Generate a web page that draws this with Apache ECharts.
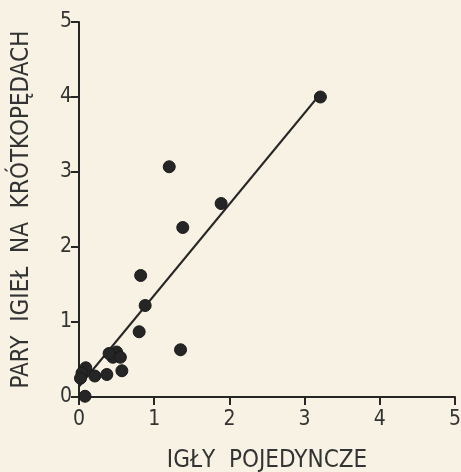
<!DOCTYPE html>
<html>
<head>
<meta charset="utf-8">
<script src="https://cdn.jsdelivr.net/npm/echarts@6/dist/echarts.min.js"></script>
<style>
  html, body { margin: 0; padding: 0; background: #f7f2e3; }
  #chart { width: 461px; height: 472px; }
</style>
</head>
<body>
<div id="chart"></div>
<script>
  var singleNeedles = [3.21, 1.20, 1.89, 1.38, 0.82, 0.88, 0.80, 1.35, 0.50, 0.45, 0.55, 0.40, 0.57, 0.37, 0.21, 0.09, 0.04, 0.02, 0.08];
  var pairedNeedles = [4.00, 3.07, 2.58, 2.26, 1.62, 1.22, 0.87, 0.63, 0.60, 0.53, 0.53, 0.58, 0.35, 0.30, 0.28, 0.39, 0.32, 0.25, 0.01];
  var lineX = [0, 3.2];
  var lineY = [0.14, 4.03];
  var ticks = [0, 1, 2, 3, 4, 5];

  var ink = "#262626";
  var font = "DejaVu Sans Condensed";

  var points = singleNeedles.map(function (x, i) { return [x, pairedNeedles[i]]; });
  var fit = lineX.map(function (x, i) { return [x, lineY[i]]; });

  var chart = echarts.init(document.getElementById("chart"));
  chart.setOption({
    backgroundColor: "#f7f2e3",
    animation: false,
    grid: { left: 79, right: 6, top: 22, bottom: 75, outerBoundsMode: "none" },
    xAxis: {
      type: "value", min: ticks[0], max: ticks[ticks.length - 1], interval: 1,
      name: "IGŁY  POJEDYNCZE", nameLocation: "middle", nameGap: 52,
      nameTextStyle: { color: "#333", fontSize: 24, fontFamily: font },
      axisLine: { lineStyle: { color: ink, width: 2 } },
      axisTick: { length: 8, lineStyle: { color: ink, width: 2 } },
      axisLabel: { color: "#333", fontSize: 21, fontFamily: font, margin: 12 },
      splitLine: { show: false }
    },
    yAxis: {
      type: "value", min: ticks[0], max: ticks[ticks.length - 1], interval: 1,
      name: "PARY  IGIEŁ  NA  KRÓTKOPĘDACH", nameLocation: "middle", nameGap: 45,
      nameTextStyle: { color: "#333", fontSize: 24, fontFamily: font },
      axisLine: { lineStyle: { color: ink, width: 2 } },
      axisTick: { length: 8, lineStyle: { color: ink, width: 2 } },
      axisLabel: { color: "#333", fontSize: 21, fontFamily: font, margin: 7 },
      splitLine: { show: false }
    },
    series: [
      {
        type: "line", data: fit, symbol: "none",
        lineStyle: { color: ink, width: 2 }, z: 2
      },
      {
        type: "scatter", data: points, symbolSize: 12,
        itemStyle: { color: "#252525", borderColor: "#1a1a1a", borderWidth: 1, opacity: 1 }, z: 3
      }
    ]
  });
</script>
</body>
</html>
